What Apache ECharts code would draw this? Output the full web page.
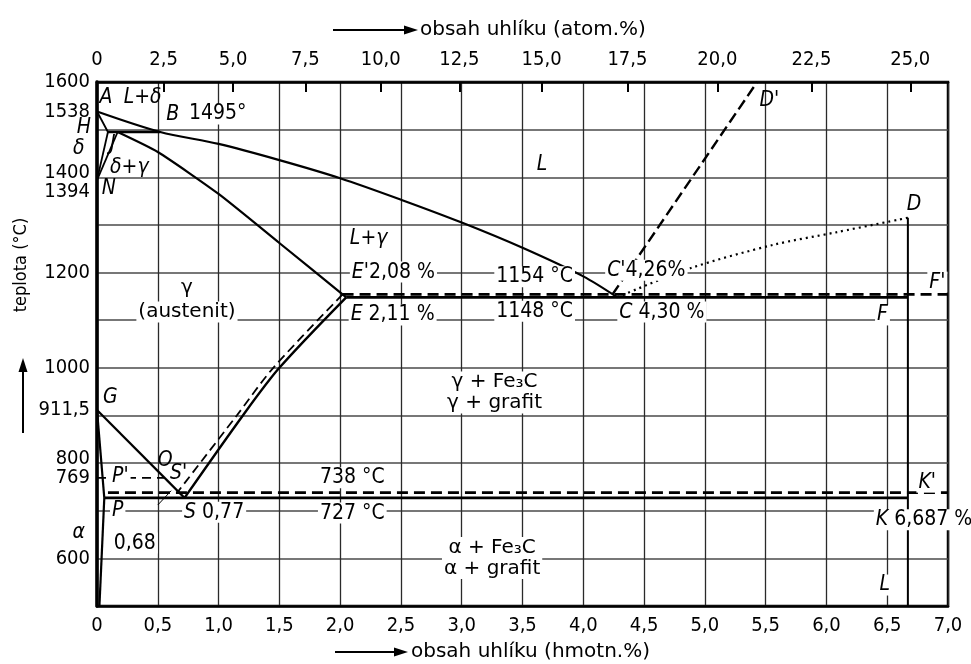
<!DOCTYPE html>
<html>
<head>
<meta charset="utf-8">
<title>Fe-C</title>
<script src="https://cdn.jsdelivr.net/npm/echarts@6/dist/echarts.min.js"></script>
<style>
  html, body { margin: 0; padding: 0; background: #fff; }
  #chart { width: 971px; height: 664px; }
</style>
</head>
<body>
<div id="chart"></div>
<script>
// axes
const yTickLabels = [1600, 1538, 1400, 1394, 1200, 1000, 911.5, 800, 769, 600];
const atomTicks = [0, 2.5, 5, 7.5, 10, 12.5, 15, 17.5, 20, 22.5, 25];
const atomTickLabels = ["0", "2,5", "5,0", "7,5", "10,0", "12,5", "15,0", "17,5", "20,0", "22,5", "25,0"];

// metastable system Fe-Fe3C (solid lines), [hmotn.% C, °C]
const liquidusABC = [[0, 1538], [0.52, 1495], [1.0, 1470], [1.5, 1436], [2.0, 1398], [2.5, 1353], [3.0, 1305], [3.5, 1252], [4.0, 1192], [4.28, 1148]];
const lineAH = [[0, 1538], [0.09, 1495]];
const lineHJB = [[0.09, 1495], [0.52, 1495]];
const lineHN = [[0.09, 1495], [0, 1394]];
const lineJN = [[0.17, 1495], [0, 1394]];
const solidusJE = [[0.17, 1495], [0.5, 1453], [1.0, 1365], [1.5, 1262], [2.05, 1148]];
const eutecticECF = [[2.05, 1148], [6.67, 1148]];
const cementiteDFK = [[6.67, 1315], [6.67, 500]];
const lineES = [[2.05, 1148], [1.5, 1000], [1.2, 900], [0.72, 727]];
const lineGS = [[0, 911.5], [0.72, 727]];
const lineGP = [[0, 911.5], [0.06, 727]];
const linePQ = [[0.06, 727], [0.02, 500]];
const eutectoidPSK = [[0.06, 727], [6.67, 727]];

// stable system Fe-graphite (dashed)
const lineESstable = [[2.02, 1154], [1.45, 1000], [1.15, 900], [0.66, 738]];
const eutecticEF = [[2.02, 1154], [7.0, 1154]];
const eutectoidPK = [[0.09, 738], [7.0, 738]];
const lineCD = [[4.24, 1154], [5.43, 1600]];
const magneticMO = [[0, 769], [0.556, 769]];
const leader068 = [[0.5, 712], [0.61, 742]];

// dotted C-D
const liquidusCD = [[4.28, 1148], [4.88, 1209], [5.56, 1258], [6.09, 1285], [6.67, 1315]];

// labels: [text, hmotn.%, °C, align]
const pointNotes = [
  ["A", 0.02, 1568, "left"],
  ["L+δ", 0.22, 1568, "left"],
  ["B", 0.57, 1531, "left"],
  ["H", -0.05, 1505, "right"],
  ["δ", -0.15, 1461, "center"],
  ["J", 0.107, 1468, "left"],
  ["δ+γ", 0.107, 1420, "left"],
  ["N", 0.04, 1377, "left"],
  ["L", 3.66, 1426, "center"],
  ["L+γ", 2.08, 1272, "left"],
  ["G", 0.05, 937, "left"],
  ["O", 0.5, 806, "left"],
  ["S'", 0.6, 779, "left"],
  ["D'", 5.45, 1562, "left"],
  ["D", 6.66, 1342, "left"],
  ["α", -0.15, 655, "center"]
];
const valueNotes = [
  ["1495°", 0.74, 1533, "left"],
  ["{i|E'}2,08 %", 2.08, 1201, "left"],
  ["{i|E} 2,11 %", 2.07, 1111, "left"],
  ["1154 °C", 3.6, 1191, "center"],
  ["1148 °C", 3.6, 1119, "center"],
  ["{i|C'}4,26%", 4.18, 1205, "left"],
  ["{i|C} 4,30 %", 4.28, 1117, "left"],
  ["{i|F'}", 6.83, 1180, "left"],
  ["{i|F}", 6.4, 1111, "left"],
  ["{i|P'}", 0.107, 771, "left"],
  ["{i|P}", 0.107, 700, "left"],
  ["{i|S} 0,77", 0.7, 697, "left"],
  ["0,68", 0.31, 632, "center"],
  ["738 °C", 2.1, 769, "center"],
  ["727 °C", 2.1, 695, "center"],
  ["{i|K'}", 6.74, 760, "left"],
  ["{i|K} 6,687 %", 6.39, 681, "left"],
  ["{i|L}", 6.48, 544, "center"]
];
const regionNotes = [
  ["γ", 0.74, 1167, "center"],
  ["(austenit)", 0.74, 1117, "center"],
  ["γ + Fe₃C\nγ + grafit", 3.27, 948, "center"],
  ["α + Fe₃C\nα + grafit", 3.25, 601, "center"]
];

const FONT = "'DejaVu Sans Condensed', 'Liberation Sans', sans-serif";
const WIDE = "'DejaVu Sans', sans-serif";

// atom.% -> hmotn.% for the upper scale
function atomToWeight(a) {
  const c = a * 12.011, fe = (100 - a) * 55.845;
  return 100 * c / (c + fe);
}
const atomTickPos = atomTicks.map(atomToWeight);

function phaseLine(data, type, width, smooth) {
  return {
    type: "line",
    data: data,
    symbol: "none",
    silent: true,
    smooth: smooth || false,
    z: 3,
    lineStyle: { color: "#000", width: width, type: type },
  };
}

function noteSeries(notes, masked, family, size, italic) {
  return {
    type: "scatter",
    symbolSize: 0,
    silent: true,
    clip: false,
    z: 6,
    itemStyle: { opacity: 1 },
    data: notes.map(n => ({
      value: [n[1], n[2]],
      label: { formatter: n[0], align: n[3] }
    })),
    label: {
      show: true,
      position: [0, 0],
      verticalAlign: "middle",
      color: "#000",
      fontFamily: family,
      fontSize: size,
      fontStyle: italic ? "italic" : "normal",
      lineHeight: 21,
      backgroundColor: masked ? "#fff" : "transparent",
      padding: masked ? [0, 2] : 0,
      rich: {
        i: { fontStyle: "italic", fontFamily: family, fontSize: size, color: "#000" }
      }
    }
  };
}

const chart = echarts.init(document.getElementById("chart"));

chart.setOption({
  animation: false,
  backgroundColor: "#fff",
  grid: {
    left: 97, right: 23, top: 82, bottom: 58,
    show: true, borderColor: "#000", borderWidth: 2.5
  },
  xAxis: [
    {
      type: "value", min: 0, max: 7, interval: 0.5,
      axisLine: { lineStyle: { color: "#000", width: 2.5 } },
      axisTick: { show: false },
      axisLabel: {
        color: "#000", fontFamily: FONT, fontSize: 20, margin: 10,
        formatter: v => (v === 0 ? "0" : v.toFixed(1).replace(".", ","))
      },
      splitLine: { show: true, lineStyle: { color: "#2a2a2a", width: 1.3 } }
    },
    {
      type: "value", min: 0, max: 7, position: "top",
      axisLine: { show: true, lineStyle: { color: "#000", width: 2.5 } },
      axisTick: { show: true, inside: true, length: 10, customValues: atomTickPos, lineStyle: { color: "#000", width: 2 } },
      axisLabel: {
        color: "#000", fontFamily: FONT, fontSize: 20, margin: 12,
        customValues: atomTickPos,
        formatter: v => {
          const i = atomTickPos.findIndex(p => Math.abs(p - v) < 1e-6);
          return i >= 0 ? atomTickLabels[i] : "";
        }
      },
      splitLine: { show: false }
    }
  ],
  yAxis: {
    type: "value", min: 500, max: 1600, interval: 100,
    axisLine: { show: true, lineStyle: { color: "#000", width: 3.5 } },
    axisTick: { show: false },
    axisLabel: {
      color: "#000", fontFamily: FONT, fontSize: 20, margin: 7,
      customValues: yTickLabels,
      formatter: v => {
        const s = String(v).replace(".", ",");
        if (v === 1394) return "{dn|" + s + "}";
        if (v === 1400 || v === 800) return "{up|" + s + "}";
        return s;
      },
      rich: {
        dn: { padding: [24, 0, 0, 0], fontFamily: FONT, fontSize: 20, color: "#000" },
        up: { padding: [0, 0, 9, 0], fontFamily: FONT, fontSize: 20, color: "#000" }
      }
    },
    splitLine: { show: true, lineStyle: { color: "#4a4a4a", width: 1.6 } }
  },
  series: [
    phaseLine(liquidusABC, "solid", 2.2, 0.3),
    phaseLine(lineAH, "solid", 1.8),
    phaseLine(lineHJB, "solid", 2.5),
    phaseLine(lineHN, "solid", 1.8),
    phaseLine(lineJN, "solid", 1.8),
    phaseLine(solidusJE, "solid", 2.2, 0.2),
    phaseLine(eutecticECF, "solid", 2.8),
    phaseLine(cementiteDFK, "solid", 2),
    phaseLine(lineES, "solid", 2.4, 0.3),
    phaseLine(lineGS, "solid", 2.2),
    phaseLine(lineGP, "solid", 2.2),
    phaseLine(linePQ, "solid", 2.2),
    phaseLine(eutectoidPSK, "solid", 2.8),
    phaseLine(lineESstable, [9, 5], 1.8, 0.3),
    phaseLine(eutecticEF, [11, 6], 2.8),
    phaseLine(eutectoidPK, [11, 6], 2.8),
    phaseLine(lineCD, [11, 5], 2.4),
    phaseLine(magneticMO, [9, 6], 1.6),
    phaseLine(leader068, "solid", 1),
    phaseLine(liquidusCD, [2, 4], 2.2, 0.3),
    noteSeries(pointNotes, false, FONT, 21, true),
    noteSeries(valueNotes, true, FONT, 21, false),
    noteSeries(regionNotes, true, WIDE, 20, false)
  ],
  graphic: [
    { type: "line", shape: { x1: 333, y1: 30, x2: 408, y2: 30 }, style: { stroke: "#000", lineWidth: 2 } },
    { type: "polygon", shape: { points: [[418, 30], [404, 25.5], [404, 34.5]] }, style: { fill: "#000" } },
    { type: "text", x: 420, y: 30, style: { text: "obsah uhlíku (atom.%)", font: "20px " + WIDE, fill: "#000", textAlign: "left", textVerticalAlign: "middle" } },
    { type: "line", shape: { x1: 335, y1: 652, x2: 398, y2: 652 }, style: { stroke: "#000", lineWidth: 2 } },
    { type: "polygon", shape: { points: [[408, 652], [394, 647.5], [394, 656.5]] }, style: { fill: "#000" } },
    { type: "text", x: 411, y: 652, style: { text: "obsah uhlíku (hmotn.%)", font: "20px " + WIDE, fill: "#000", textAlign: "left", textVerticalAlign: "middle" } },
    { type: "text", x: 21, y: 265, rotation: Math.PI / 2, style: { text: "teplota (°C)", font: "18px " + FONT, fill: "#000", textAlign: "center", textVerticalAlign: "middle" } },
    { type: "line", shape: { x1: 23, y1: 433, x2: 23, y2: 370 }, style: { stroke: "#000", lineWidth: 2 } },
    { type: "polygon", shape: { points: [[23, 358], [18.5, 372], [27.5, 372]] }, style: { fill: "#000" } }
  ]
});

window.addEventListener("resize", () => chart.resize());
</script>
</body>
</html>
